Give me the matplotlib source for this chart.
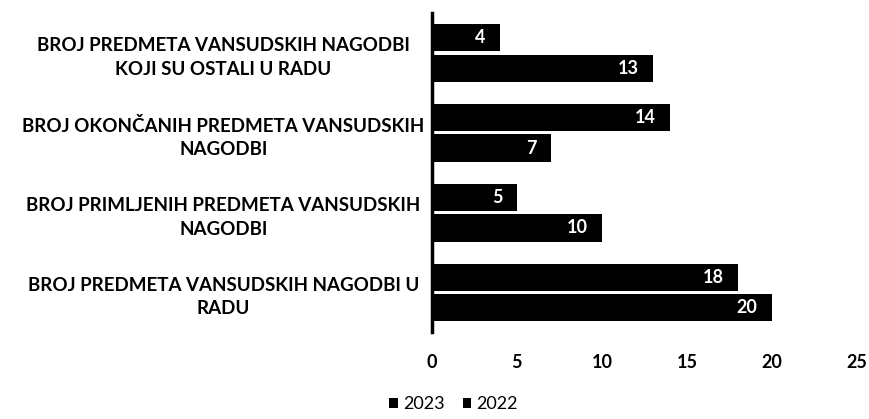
import matplotlib
matplotlib.use("Agg")
import matplotlib.pyplot as plt
import numpy as np

categories = [
    "BROJ PREDMETA VANSUDSKIH NAGODBI U\nRADU",
    "BROJ PRIMLJENIH PREDMETA VANSUDSKIH\nNAGODBI",
    "BROJ OKONČANIH PREDMETA VANSUDSKIH\nNAGODBI",
    "BROJ PREDMETA VANSUDSKIH NAGODBI\nKOJI SU OSTALI U RADU",
]
values_2023 = [18, 5, 14, 4]
values_2022 = [20, 10, 7, 13]
series_names = ["2023", "2022"]
xticks = [0, 5, 10, 15, 20, 25]

plt.rcParams['font.family'] = ['Lato', 'DejaVu Sans']

fig = plt.figure(figsize=(8.69, 4.19), dpi=100)
ax = fig.add_axes([0.497, 0.208, 0.489, 0.761])

y = np.arange(len(categories))
h = 0.34
off = 0.19
b1 = ax.barh(y + off, values_2023, height=h, color='black', label=series_names[0])
b2 = ax.barh(y - off, values_2022, height=h, color='black', label=series_names[1])

for bars, vals in ((b1, values_2023), (b2, values_2022)):
    for bar, v in zip(bars, vals):
        ax.text(v - 0.85, bar.get_y() + bar.get_height() / 2, str(v),
                ha='right', va='center', color='white', fontsize=13, fontweight='bold')

ax.set_xlim(0, 25)
ax.set_ylim(-0.49, 3.5)
ax.set_xticks(xticks)
ax.set_xticklabels([str(t) for t in xticks], fontsize=13, fontweight='bold')
ax.set_yticks(y)
ax.set_yticklabels(categories, fontsize=13.5, fontweight='bold', ha='center', linespacing=1.45)
ax.tick_params(axis='y', length=0, pad=150)
ax.tick_params(axis='x', length=0, pad=16)
for s in ['top', 'right', 'bottom']:
    ax.spines[s].set_visible(False)
ax.spines['left'].set_linewidth(2.5)
ax.spines['left'].set_color('black')

leg = fig.legend(handles=[b1, b2], labels=series_names, loc='center', bbox_to_anchor=(0.522, 0.035),
                 ncol=2, frameon=False, fontsize=13, handlelength=0.45, handleheight=0.45,
                 handletextpad=0.3, columnspacing=1.0)

fig.savefig("out.png", dpi=100)
